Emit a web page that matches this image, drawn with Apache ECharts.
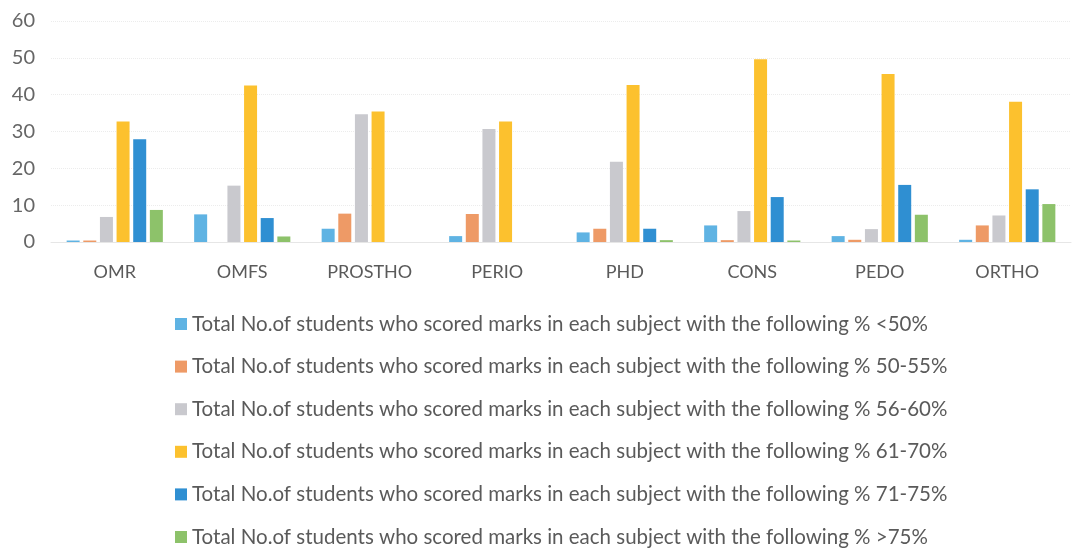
<!DOCTYPE html>
<html>
<head>
<meta charset="utf-8">
<title>Marks by subject</title>
<script src="https://cdn.jsdelivr.net/npm/echarts@6/dist/echarts.min.js"></script>
<style>
  html, body { margin: 0; padding: 0; background: #fff; }
  #chart { width: 1089px; height: 550px; }
</style>
</head>
<body>
<div id="chart"></div>
<script>
// data
let subjects = ['OMR', 'OMFS', 'PROSTHO', 'PERIO', 'PHD', 'CONS', 'PEDO', 'ORTHO'];
let prefix = 'Total No.of students who scored marks in each subject with the following % ';
let bands = ['<50%', '50-55%', '56-60%', '61-70%', '71-75%', '>75%'];

let below50 = [0.4, 7.5, 3.6, 1.6, 2.6, 4.5, 1.6, 0.6];
let from50to55 = [0.4, 0, 7.7, 7.6, 3.6, 0.5, 0.6, 4.5];
let from56to60 = [6.8, 15.3, 34.7, 30.7, 21.8, 8.4, 3.5, 7.2];
let from61to70 = [32.7, 42.5, 35.4, 32.7, 42.6, 49.6, 45.6, 38.1];
let from71to75 = [27.9, 6.5, 0, 0, 3.6, 12.2, 15.5, 14.3];
let above75 = [8.7, 1.5, 0, 0, 0.5, 0.4, 7.4, 10.3];

let colors = ['#5fb3e3', '#ee9a66', '#c9c9ce', '#fcc12e', '#2f8fd2', '#8dc26a'];
let values = [below50, from50to55, from56to60, from61to70, from71to75, above75];

let myChart = echarts.init(document.getElementById('chart'));

let series = bands.map(function (b, i) {
    return {
        name: prefix + b,
        type: 'bar',
        barWidth: 13,
        barGap: '28%',
        itemStyle: { color: colors[i] },
        data: values[i]
    };
});

let option = {
    animation: false,
    color: colors,
    grid: {
        left: 51,
        right: 18,
        top: 21,
        height: 221
    },
    legend: {
        orient: 'vertical',
        left: 175,
        top: 313,
        height: 240,
        padding: 0,
        icon: 'rect',
        itemWidth: 12,
        itemHeight: 12,
        itemGap: 20.6,
        textStyle: {
            fontFamily: 'Lato',
            fontSize: 20.5,
            lineHeight: 22,
            color: '#5a5a5a'
        },
        data: series.map(function (s) { return s.name; })
    },
    xAxis: {
        type: 'category',
        data: subjects,
        axisTick: { show: false },
        axisLine: { lineStyle: { color: '#e6e6e6' } },
        axisLabel: {
            margin: 21,
            fontFamily: 'Lato',
            fontSize: 18,
            color: '#5a5a5a'
        }
    },
    yAxis: {
        type: 'value',
        min: 0,
        max: 60,
        interval: 10,
        axisLine: { show: false },
        axisTick: { show: false },
        axisLabel: {
            margin: 16,
            fontFamily: 'Lato',
            fontSize: 20,
            color: '#666'
        },
        splitLine: { lineStyle: { color: '#ececec', type: 'dotted' } }
    },
    series: series
};

myChart.setOption(option);
window.addEventListener('resize', function () {
    myChart.resize();
});
</script>
</body>
</html>
